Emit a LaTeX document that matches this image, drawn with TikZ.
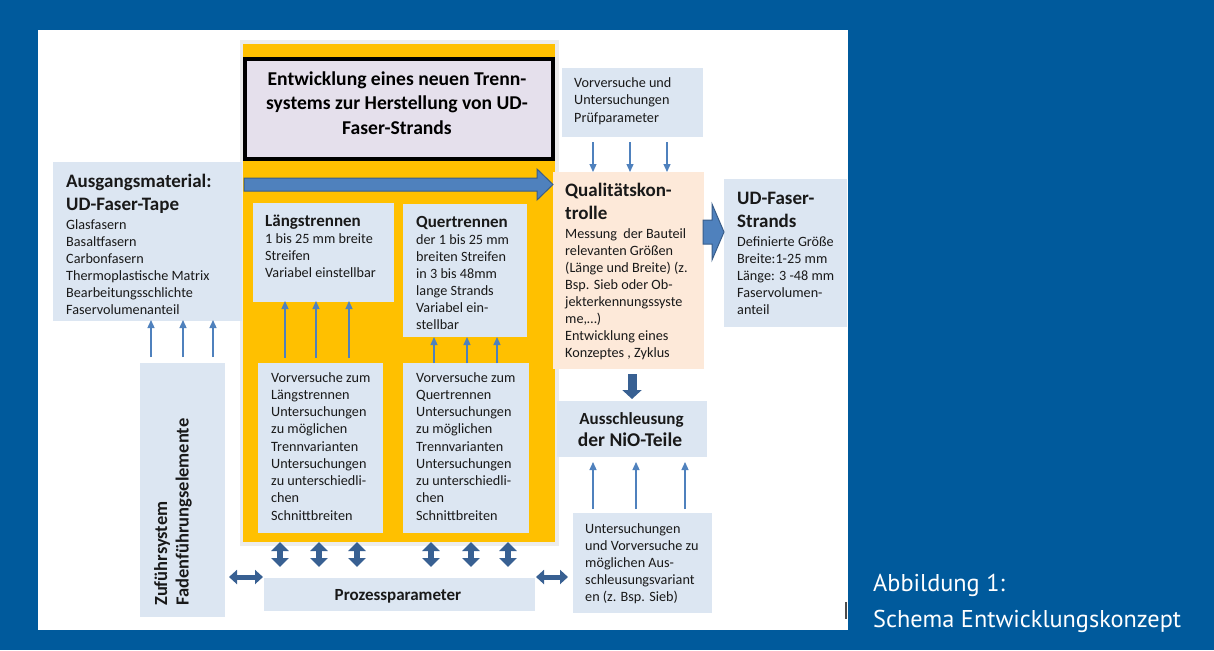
\documentclass[tikz,border=0pt]{standalone}
\usepackage{fontspec}
\setmainfont{Carlito}
\newfontfamily\capfont{PT Sans}
\usetikzlibrary{arrows.meta,calc}
\definecolor{bgblue}{RGB}{0,90,156}
\definecolor{boxblue}{HTML}{DCE6F2}
\definecolor{peach}{HTML}{FDE9D9}
\definecolor{lav}{HTML}{E5E0EC}
\definecolor{yel}{HTML}{FFC000}
\definecolor{arrblue}{HTML}{4F81BD}
\definecolor{arrdark}{HTML}{385D8A}
\definecolor{darkarr}{RGB}{56,96,146}
\definecolor{shadowgray}{HTML}{ECECEC}
\newcommand\mkbox[6]{\node[#6, minimum width={#4-#2}, minimum height={#5-#3}] (#1) at ({(#2+#4)/2},{(#3+#5)/2}) {};}
\newcommand\tlines[5]{\foreach \txt [count=\ii from 0] in {#5} {\node[body] (#1\ii) at (#2,{#3+#4*\ii}) {\txt};}}
\begin{document}
\begin{tikzpicture}[x=1pt,y=-1pt,
  boxstyle/.style={draw=none, fill=boxblue, inner sep=0, outer sep=0, rectangle},
  peachbox/.style={boxstyle, fill=peach},
  body/.style={inner sep=0, anchor=base west, font=\fontsize{14.2}{17}\selectfont, text=black!90},
  head/.style={inner sep=0, anchor=base west, font=\bfseries\fontsize{19}{23}\selectfont, text=black!90},
  subhead/.style={inner sep=0, anchor=base west, font=\bfseries\fontsize{17}{20}\selectfont, text=black!90},
  thinarrow/.style={draw=arrblue, line width=1.3pt, -{Triangle[length=8pt,width=7pt]}},
  dblv/.style={draw=darkarr, line width=6pt, {Triangle[length=9pt,width=17pt]}-{Triangle[length=9pt,width=17pt]}},
  dblh/.style={draw=darkarr, line width=5pt, {Triangle[length=8pt,width=14pt]}-{Triangle[length=8pt,width=14pt]}},
  blockarrow/.style={fill=arrblue, draw=arrdark, line width=1pt, line join=miter}
]
\useasboundingbox (0,0) rectangle (1214,650);
\fill[bgblue] (0,0) rectangle (1214,650);
\fill[white] (38,30) rectangle (848,630);
\draw[black!70, line width=1.5pt] (846,602) -- (846,619);

% yellow field
\mkbox{ysh}{240}{40}{559}{546}{boxstyle, fill=shadowgray}
\mkbox{yel}{243}{44}{555}{542}{boxstyle, fill=yel}
\mkbox{title}{245}{59}{553}{159}{boxstyle, fill=lav, draw=black, line width=3.5pt}

% boxes
\mkbox{aus}{53}{162}{242}{321}{boxstyle}
\mkbox{laeng}{253}{203}{394}{302}{boxstyle}
\mkbox{quer}{403}{204}{527}{337}{boxstyle}
\mkbox{vl}{258}{363}{383}{533}{boxstyle}
\mkbox{vq}{403}{363}{529}{533}{boxstyle}
\mkbox{zuf}{140}{363}{225}{617}{boxstyle}
\mkbox{pp}{264}{578}{535}{611}{boxstyle}
\mkbox{unt}{573}{513}{712}{613}{boxstyle}
\mkbox{ausn}{557}{401}{707}{457}{boxstyle}
\mkbox{qk}{553}{172}{704}{369}{peachbox}
\mkbox{vp}{562}{68}{703}{137}{boxstyle}
\mkbox{udfs}{724}{179}{847}{327}{boxstyle}

% title text
\node[inner sep=0, anchor=base, font=\bfseries\fontsize{19.6}{23}\selectfont] (t1) at (397,86) {Entwicklung eines neuen Trenn-};
\node[inner sep=0, anchor=base, font=\bfseries\fontsize{19.6}{23}\selectfont] (t2) at (397,110) {systems zur Herstellung von UD-};
\node[inner sep=0, anchor=base, font=\bfseries\fontsize{19.6}{23}\selectfont] (t3) at (397,134) {Faser-Strands};

% Ausgangsmaterial
\node[head] (amh1) at (66,187.7) {Ausgangsmaterial:};
\node[head] (amh2) at (66,210.7) {UD-Faser-Tape};
\tlines{am}{66}{229}{17.1}{Glasfasern,Basaltfasern,Carbonfasern,Thermoplastische Matrix,Bearbeitungsschlichte,Faservolumenanteil}

% Laengstrennen
\node[subhead] (lh) at (265,226.7) {Längstrennen};
\tlines{lt}{265}{243.5}{17}{1 bis 25 mm breite,Streifen,Variabel einstellbar}

% Quertrennen
\node[subhead] (qh) at (416,227) {Quertrennen};
\tlines{qt}{416}{244}{17}{der 1 bis 25 mm,breiten Streifen,in 3 bis 48mm,lange Strands,Variabel ein-,stellbar}

% Vorversuche Pruefparameter
\tlines{vpt}{574}{88}{17}{Vorversuche und,Untersuchungen,Prüfparameter}

% Qualitaetskontrolle
\node[head] (qkh1) at (565,196.7) {Qualitätskon-};
\node[head] (qkh2) at (565,219) {trolle};
\tlines{qkt}{565}{238.3}{17}{Messung\hspace{3pt} der Bauteil,relevanten Größen,(Länge und Breite) (z.,Bsp. Sieb oder Ob-,jekterkennungssyste,{me,…)},Entwicklung eines,{Konzeptes , Zyklus}}

% UD-Faser-Strands
\node[head] (udh1) at (737,204) {UD-Faser-};
\node[head] (udh2) at (737,227) {Strands};
\tlines{udt}{737}{246.7}{17}{Definierte Größe,Breite:1-25 mm,Länge: 3 -48 mm,Faservolumen-,anteil}

% Vorversuche zum Laengs/Quertrennen
\tlines{vlt}{271}{382}{17.25}{Vorversuche zum,Längstrennen,Untersuchungen,zu möglichen,Trennvarianten,Untersuchungen,zu unterschiedli-,chen,Schnittbreiten}
\tlines{vqt}{416}{382}{17.25}{Vorversuche zum,Quertrennen,Untersuchungen,zu möglichen,Trennvarianten,Untersuchungen,zu unterschiedli-,chen,Schnittbreiten}

% Zufuehrsystem
\node[inner sep=0, rotate=90, anchor=base west, font=\bfseries\fontsize{18.5}{22}\selectfont, text=black!90] (zf1) at (167,606) {Zuführsystem};
\node[inner sep=0, rotate=90, anchor=base west, font=\bfseries\fontsize{18.5}{22}\selectfont, text=black!90] (zf2) at (188.5,606) {Fadenführungselemente};

% Prozessparameter
\node[inner sep=0, anchor=base, font=\bfseries\fontsize{17}{20}\selectfont, text=black!90] (ppt) at (398,600.7) {Prozessparameter};

% Ausschleusung
\node[inner sep=0, anchor=base, font=\bfseries\fontsize{17}{20}\selectfont, text=black!90] (an1) at (631.5,424) {Ausschleusung};
\node[inner sep=0, anchor=base, font=\bfseries\fontsize{19.5}{23}\selectfont, text=black!90] (an2) at (630,446.7) {der NiO-Teile};

% Untersuchungen
\tlines{unl}{585}{533}{17}{Untersuchungen,und Vorversuche zu,möglichen Aus-,schleusungsvariant,en (z. Bsp. Sieb)}

% caption
\node[inner sep=0, anchor=base west, text=white, font=\capfont\fontsize{24.3}{30}\selectfont] (cap1) at (873,591.7) {Abbildung 1:};
\node[inner sep=0, anchor=base west, text=white, font=\capfont\fontsize{24.3}{30}\selectfont] (cap2) at (873,627) {Schema Entwicklungskonzept};

% thin arrows
\foreach \dx in {-31.5,0.5,30.5}
  \draw[thinarrow, shorten <=6pt, shorten >=-1pt] ([xshift=\dx]zuf.north) -- ([xshift=\dx]zuf.north |- aus.south);
\foreach \dx in {-35.5,-4.5,28.5}
  \draw[thinarrow, shorten <=5pt, shorten >=-1pt] ([xshift=\dx]vl.north) -- ([xshift=\dx]vl.north |- laeng.south);
\foreach \dx in {-32,1,31}
  \draw[thinarrow] ([xshift=\dx]vq.north) -- ([xshift=\dx]vq.north |- quer.south);
\foreach \dx in {-39.5,-2.5,34.5}
  \draw[thinarrow, shorten <=5pt] ([xshift=\dx]vp.south) -- ([xshift=\dx]vp.south |- qk.north);
\foreach \dx in {-49.5,-6.5,42.5}
  \draw[thinarrow, shorten <=4pt, shorten >=5pt] ([xshift=\dx]unt.north) -- ([xshift=\dx]unt.north |- ausn.south);

% double arrows to Prozessparameter
\foreach \dx in {-119.5,-80.5,-42.5,31.5,71.5,108.5}
  \draw[dblv, shorten >=11pt] ([xshift=\dx]pp.north |- yel.south) -- ([xshift=\dx]pp.north);
\coordinate (hy) at (0,577);
\draw[dblh, shorten <=4pt, shorten >=1pt] (zuf.east |- hy) -- (pp.west |- hy);
\draw[dblh, shorten <=1pt, shorten >=5pt] (pp.east |- hy) -- (unt.west |- hy);

% down arrow Qualitaet -> Ausschleusung
\draw[draw=darkarr, line width=9pt, -{Triangle[length=9pt,width=19pt]}, shorten <=5pt, shorten >=2pt] (ausn.north |- qk.south) -- (ausn.north);

% big arrow in yellow field
\coordinate (ba) at (244,184.5);
\filldraw[blockarrow] (ba) ++(0,-6.5) -- ++(293,0) -- ++(0,-9) -- (qk.west |- ba) -- ++(-16,15.5) -- ++(0,-9) -- ++(-293,0) -- cycle;

% arrow Qualitaet -> UD-Faser-Strands
\coordinate (rb) at (703,232);
\filldraw[blockarrow] (rb) ++(0,-12) -- ++(9,0) -- ++(0,-16) -- (udfs.west |- rb) -- ++(-12,28) -- ++(0,-16) -- ++(-9,0) -- cycle;
\end{tikzpicture}
\end{document}
